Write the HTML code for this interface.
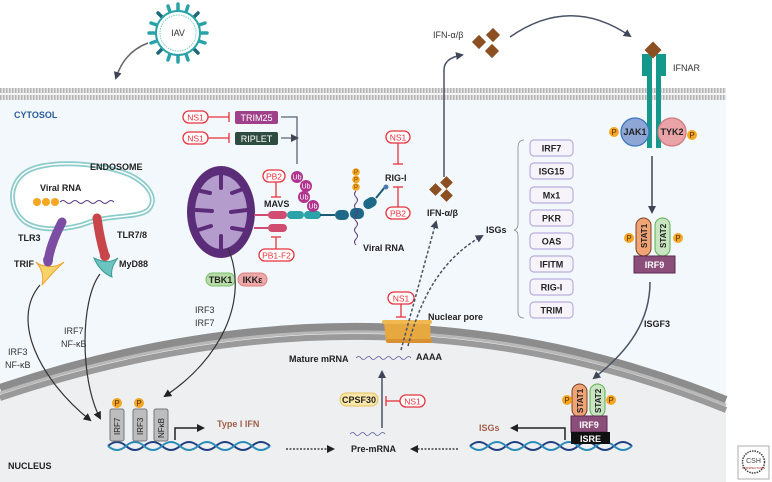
<!DOCTYPE html>
<html><head><meta charset="utf-8"><style>
html,body{margin:0;padding:0;background:#fff}
svg{display:block}
text{font-family:"Liberation Sans",sans-serif}
.b{font-weight:bold;font-size:9px;fill:#222}
.n{font-size:9px;fill:#333}
.pill{fill:#fff;stroke:#e8323c;stroke-width:1.3}
.pt{font-size:8.5px;fill:#e8323c;text-anchor:middle}
.isg{fill:#f6f3fb;stroke:#b9aee0;stroke-width:1.2}
</style></head><body>
<svg width="772" height="482" viewBox="0 0 772 482" xmlns="http://www.w3.org/2000/svg">
<defs>
<marker id="ar" markerWidth="8" markerHeight="8" refX="6" refY="4" orient="auto" markerUnits="userSpaceOnUse"><path d="M0,0 L8,4 L0,8 Z" fill="#3d4556"/></marker>
<marker id="ak" markerWidth="8" markerHeight="8" refX="6" refY="4" orient="auto" markerUnits="userSpaceOnUse"><path d="M0,0 L8,4 L0,8 Z" fill="#222"/></marker>
<pattern id="mem" width="3" height="12" patternUnits="userSpaceOnUse"><rect width="3" height="12" fill="#e6e6e6"/><rect x="0" y="0" width="1.5" height="12" fill="#b4b4b4"/></pattern>
</defs>
<rect x="0" y="100" width="726" height="382" fill="#f3f8fc"/>
<path d="M0,396 Q380,268 726,408 L726,482 L0,482 Z" fill="#eeeff1"/>
<path d="M0,388 Q380,260 726,400" fill="none" stroke="#8c8c8c" stroke-width="8"/>
<path d="M0,398 Q380,270 726,410" fill="none" stroke="#9a9a9a" stroke-width="6"/>
<path d="M0,393 Q380,265 726,405" fill="none" stroke="#b8b8b8" stroke-width="3"/>
<rect x="0" y="88" width="726" height="12" fill="url(#mem)"/>
<rect x="0" y="93" width="726" height="2" fill="#f4f4f4"/>
<!-- virus -->
<g transform="translate(178,33)">
<g stroke-width="3.5" stroke-linecap="round">
<g stroke="#2aa3a8">
<line x1="0" y1="-23" x2="0" y2="-29"/><line x1="0" y1="23" x2="0" y2="29"/><line x1="-23" y1="0" x2="-29" y2="0"/><line x1="23" y1="0" x2="29" y2="0"/>
<line x1="8" y1="-21" x2="10" y2="-27"/><line x1="-8" y1="21" x2="-10" y2="27"/><line x1="21" y1="8" x2="27" y2="10"/><line x1="-21" y1="-8" x2="-27" y2="-10"/>
<line x1="-8" y1="-21" x2="-10" y2="-27"/><line x1="8" y1="21" x2="10" y2="27"/><line x1="21" y1="-8" x2="27" y2="-10"/><line x1="-21" y1="8" x2="-27" y2="10"/>
</g>
<g stroke="#1e6878">
<line x1="16" y1="16" x2="20" y2="20"/><line x1="-16" y1="16" x2="-20" y2="20"/><line x1="16" y1="-16" x2="20" y2="-20"/><line x1="-16" y1="-16" x2="-20" y2="-20"/>
</g>
</g>
<circle r="22" fill="#fff" stroke="#2aa3a8" stroke-width="2"/>
<circle r="18" fill="#fff" stroke="#7fc8cc" stroke-width="1" stroke-dasharray="1.5,1"/>
<text x="0" y="3" font-size="9" text-anchor="middle" fill="#333">IAV</text>
</g>
<path d="M148,43 Q124,52 116,78" fill="none" stroke="#666" stroke-width="1.5" marker-end="url(#ar)"/>
<text x="14" y="118" font-size="9" font-weight="bold" fill="#2a5d9a">CYTOSOL</text>
<rect class="pill" x="183" y="111" width="25" height="12" rx="6"/><text class="pt" x="195.5" y="120.5">NS1</text>
<line x1="208" y1="117" x2="229" y2="117" stroke="#e8323c" stroke-width="1.3"/><line x1="229" y1="112" x2="229" y2="122" stroke="#e8323c" stroke-width="1.3"/>
<rect x="235" y="111" width="43" height="13" rx="2" fill="#a0408a"/><text x="256.5" y="121" font-size="9" fill="#fff" text-anchor="middle">TRIM25</text>
<rect class="pill" x="183" y="132" width="25" height="12" rx="6"/><text class="pt" x="195.5" y="141.5">NS1</text>
<line x1="208" y1="138" x2="229" y2="138" stroke="#e8323c" stroke-width="1.3"/><line x1="229" y1="133" x2="229" y2="143" stroke="#e8323c" stroke-width="1.3"/>
<rect x="235" y="132" width="43" height="13" rx="2" fill="#2f4c40"/><text x="256.5" y="142" font-size="9" fill="#fff" text-anchor="middle">RIPLET</text>
<path d="M281,117 H297 V164 M281,138 H297" fill="none" stroke="#5a6275" stroke-width="1.3" marker-end="url(#ar)"/>
<!-- endosome -->
<path d="M22,175 C40,158 100,162 130,175 C150,185 158,200 148,210 C138,218 110,215 90,222 C70,230 40,232 25,222 C10,210 8,188 22,175 Z" fill="#fff" stroke="#8ccbcc" stroke-width="5"/>
<path d="M22,175 C40,158 100,162 130,175 C150,185 158,200 148,210 C138,218 110,215 90,222 C70,230 40,232 25,222 C10,210 8,188 22,175 Z" fill="none" stroke="#fff" stroke-width="1.5"/>
<text class="b" x="90" y="170">ENDOSOME</text>
<text class="b" x="40" y="191">Viral RNA</text>
<circle cx="37" cy="202" r="4" fill="#f5a623"/><circle cx="46" cy="202" r="4" fill="#f5a623"/><circle cx="55" cy="202" r="4" fill="#f5a623"/>
<path d="M60,202 q3,-3 6,0 t6,0 t6,0 t6,0 t6,0 t6,0 t6,0 t6,0 t6,0" fill="none" stroke="#5b3a7d" stroke-width="1"/>
<path d="M36,262 Q45,272 42,285 Q55,270 64,262 Q55,268 48,266 Q40,266 36,262 Z" fill="#f7d46a" stroke="#f0a030" stroke-width="1"/>
<path d="M62,222 Q50,245 48,262" stroke="#7b4ea3" stroke-width="9" stroke-linecap="round" fill="none"/>
<circle cx="48" cy="260" r="5" fill="#7b4ea3"/>
<path d="M94,258 Q100,272 112,277 Q110,268 118,258 Q108,265 94,258 Z" fill="#6cc4c0" stroke="#3a9a96" stroke-width="1"/>
<path d="M97,218 Q100,240 105,256" stroke="#c8454a" stroke-width="9" stroke-linecap="round" fill="none"/>
<circle cx="105" cy="256" r="5" fill="#c8454a"/>
<text class="b" x="18" y="241">TLR3</text><text class="b" x="14" y="267">TRIF</text>
<text class="b" x="117" y="238">TLR7/8</text><text class="b" x="119" y="267">MyD88</text>
<!-- mitochondria -->
<ellipse cx="221" cy="212" rx="34" ry="46" fill="#5b2d79"/>
<ellipse cx="221" cy="212" rx="26" ry="37" fill="#b49ccc"/>
<g stroke="#5b2d79" stroke-width="4" stroke-linecap="round">
<line x1="196" y1="190" x2="210" y2="193"/><line x1="196" y1="210" x2="212" y2="211"/><line x1="198" y1="230" x2="211" y2="226"/>
<line x1="246" y1="188" x2="232" y2="193"/><line x1="247" y1="210" x2="231" y2="212"/><line x1="244" y1="230" x2="232" y2="228"/>
<line x1="221" y1="175" x2="221" y2="188"/><line x1="221" y1="249" x2="221" y2="236"/>
</g>
<rect x="268" y="211" width="19" height="8" rx="4" fill="#d04c70"/>
<rect x="268" y="224" width="19" height="8" rx="4" fill="#d04c70"/>
<line x1="254" y1="215" x2="268" y2="215" stroke="#d04c70" stroke-width="2"/>
<line x1="254" y1="228" x2="268" y2="228" stroke="#d04c70" stroke-width="2"/>
<rect x="287" y="211" width="17" height="8" rx="4" fill="#2aa3a8"/>
<rect x="304" y="211" width="17" height="8" rx="4" fill="#2aa3a8"/>
<line x1="320" y1="215" x2="335" y2="215" stroke="#1a5c78" stroke-width="2"/>
<rect x="335" y="210" width="14" height="10" rx="5" fill="#1e6888"/>
<rect x="350" y="208" width="14" height="11" rx="5" fill="#1e6888"/>
<rect x="363" y="198" width="14" height="10" rx="5" fill="#1e6888" transform="rotate(-30 370 203)"/>
<line x1="376" y1="198" x2="385" y2="187" stroke="#1a5c78" stroke-width="2"/>
<circle cx="386" cy="187" r="2.5" fill="#4a7ab0"/>
<g font-size="7" fill="#fff" text-anchor="middle">
<circle cx="297" cy="177" r="6" fill="#b0338d"/><text x="297" y="179.5">Ub</text>
<circle cx="306" cy="186" r="6" fill="#b0338d"/><text x="306" y="188.5">Ub</text>
<circle cx="304" cy="197" r="6" fill="#b0338d"/><text x="304" y="199.5">Ub</text>
<circle cx="313" cy="206" r="6" fill="#b0338d"/><text x="313" y="208.5">Ub</text>
</g>
<g font-size="6" fill="#7a4a00" text-anchor="middle">
<circle cx="356" cy="172" r="3.8" fill="#f5a623"/><text x="356" y="174">P</text>
<circle cx="356" cy="179.5" r="3.8" fill="#f5a623"/><text x="356" y="181.5">P</text>
<circle cx="356" cy="187" r="3.8" fill="#f5a623"/><text x="356" y="189">P</text>
</g>
<path d="M356,191 q-3,3 0,6 t0,6 t0,6 t0,6 t0,6 t0,6 t0,6 t0,6 t0,6" fill="none" stroke="#5b3a7d" stroke-width="1"/>
<text class="b" x="363" y="251">Viral RNA</text>
<text class="b" x="264" y="207">MAVS</text>
<rect class="pill" x="263" y="170" width="22" height="12" rx="6"/><text class="pt" x="274" y="179.5">PB2</text>
<line x1="276" y1="182" x2="276" y2="197" stroke="#e8323c" stroke-width="1.3"/><line x1="271" y1="197" x2="281" y2="197" stroke="#e8323c" stroke-width="1.3"/>
<rect class="pill" x="259" y="249" width="35" height="12" rx="6"/><text class="pt" x="276.5" y="258.5">PB1-F2</text>
<line x1="276" y1="249" x2="276" y2="237" stroke="#e8323c" stroke-width="1.3"/><line x1="271" y1="237" x2="281" y2="237" stroke="#e8323c" stroke-width="1.3"/>
<text class="b" x="385" y="181">RIG-I</text>
<rect class="pill" x="386" y="131" width="24" height="12" rx="6"/><text class="pt" x="398" y="140.5">NS1</text>
<line x1="398" y1="143" x2="398" y2="164" stroke="#e8323c" stroke-width="1.3"/><line x1="393" y1="164" x2="403" y2="164" stroke="#e8323c" stroke-width="1.3"/>
<rect class="pill" x="386" y="207" width="24" height="12" rx="6"/><text class="pt" x="398" y="216.5">PB2</text>
<line x1="398" y1="207" x2="398" y2="187" stroke="#e8323c" stroke-width="1.3"/><line x1="393" y1="187" x2="403" y2="187" stroke="#e8323c" stroke-width="1.3"/>
<rect x="206" y="273" width="29" height="13" rx="6.5" fill="#b8dca8" stroke="#7cbf6a" stroke-width="1"/><text class="b" x="220.5" y="283" text-anchor="middle">TBK1</text>
<rect x="238" y="273" width="29" height="13" rx="6.5" fill="#eea8a8" stroke="#d88080" stroke-width="1"/><text class="b" x="252.5" y="283" text-anchor="middle">IKKε</text>
<path d="M40,285 C10,320 40,380 90,420" fill="none" stroke="#333" stroke-width="1.2" marker-end="url(#ak)"/>
<path d="M100,274 C80,300 80,380 100,418" fill="none" stroke="#333" stroke-width="1.2" marker-end="url(#ak)"/>
<path d="M228,248 C250,300 220,360 165,396" fill="none" stroke="#333" stroke-width="1.2" marker-end="url(#ak)"/>
<text class="n" x="8" y="355">IRF3</text><text class="n" x="5" y="368">NF-κB</text>
<text class="n" x="64" y="334">IRF7</text><text class="n" x="61" y="347">NF-κB</text>
<text class="n" x="195" y="313">IRF3</text><text class="n" x="195" y="326">IRF7</text>
<g fill="none" stroke-width="2">
<path d="M108,446 q9,-8 18,0 t18,0 t18,0 t18,0 t18,0 t18,0 t18,0 t18,0 t18,0" stroke="#1e3f80"/>
<path d="M108,446 q9,8 18,0 t18,0 t18,0 t18,0 t18,0 t18,0 t18,0 t18,0 t18,0" stroke="#2a8ab8"/>
<path d="M470,446 q9,-8 18,0 t18,0 t18,0 t18,0 t18,0 t18,0 t18,0 t18,0 t18,0" stroke="#1e3f80"/>
<path d="M470,446 q9,8 18,0 t18,0 t18,0 t18,0 t18,0 t18,0 t18,0 t18,0 t18,0" stroke="#2a8ab8"/>
</g>
<g font-size="8" fill="#222">
<rect x="110" y="409" width="14" height="32" rx="2" fill="#bdbdbd" stroke="#777"/><text transform="translate(120,435) rotate(-90)">IRF7</text>
<rect x="133" y="409" width="14" height="32" rx="2" fill="#bdbdbd" stroke="#777"/><text transform="translate(143,435) rotate(-90)">IRF3</text>
<rect x="154" y="409" width="14" height="32" rx="2" fill="#bdbdbd" stroke="#777"/><text transform="translate(164,438) rotate(-90)">NFκB</text>
</g>
<circle cx="117" cy="403" r="5" fill="#f5a623"/><text x="117" y="406" font-size="8" text-anchor="middle" fill="#5a3000">P</text>
<circle cx="139" cy="403" r="5" fill="#f5a623"/><text x="139" y="406" font-size="8" text-anchor="middle" fill="#5a3000">P</text>
<path d="M175,440 V428 H203" fill="none" stroke="#222" stroke-width="1.5" marker-end="url(#ak)"/>
<text x="217" y="427" font-size="9" font-weight="bold" fill="#a0604a">Type I IFN</text>
<text class="b" x="8" y="469">NUCLEUS</text>
<line x1="286" y1="449" x2="333" y2="449" stroke="#222" stroke-width="1.2" stroke-dasharray="2,1.5" marker-end="url(#ak)"/>
<text class="b" x="351" y="452">Pre-mRNA</text>
<line x1="458" y1="449" x2="412" y2="449" stroke="#222" stroke-width="1.2" stroke-dasharray="2,1.5" marker-end="url(#ak)"/>
<path d="M350,434 q3,-3 5,0 t5,0 t5,0 t5,0 t5,0 t5,0 t5,0" fill="none" stroke="#5b5b9b" stroke-width="0.8"/>
<line x1="382" y1="428" x2="382" y2="372" stroke="#4a5266" stroke-width="1.5" marker-end="url(#ar)"/>
<rect x="340" y="393" width="38" height="13" rx="6.5" fill="#fbe7a8" stroke="#e8c060"/><text class="b" x="359" y="403" text-anchor="middle">CPSF30</text>
<rect class="pill" x="400" y="395" width="25" height="12" rx="6"/><text class="pt" x="412.5" y="404.5">NS1</text>
<line x1="400" y1="401" x2="386" y2="401" stroke="#e8323c" stroke-width="1.3"/><line x1="386" y1="396" x2="386" y2="406" stroke="#e8323c" stroke-width="1.3"/>
<text class="b" x="289" y="362">Mature mRNA</text>
<path d="M356,358 q3,-3 5,0 t5,0 t5,0 t5,0 t5,0 t5,0 t5,0 t5,0 t5,0 t5,0 t5,0" fill="none" stroke="#5b5b9b" stroke-width="0.8"/>
<text class="b" x="416" y="360">AAAA</text>
<path d="M384,322 L430,322 L431,342 L386,342 Z" fill="#e8a840"/>
<rect x="382" y="320" width="50" height="4" rx="2" fill="#f0b850"/>
<rect x="386" y="339" width="46" height="4" rx="2" fill="#d89030"/>
<rect class="pill" x="388" y="292" width="26" height="12" rx="6"/><text class="pt" x="401" y="301.5">NS1</text>
<line x1="401" y1="304" x2="401" y2="317" stroke="#e8323c" stroke-width="1.3"/><line x1="396" y1="317" x2="406" y2="317" stroke="#e8323c" stroke-width="1.3"/>
<text class="b" x="428" y="320">Nuclear pore</text>
<line x1="401" y1="350" x2="436" y2="222" stroke="#4a5266" stroke-width="1.5" stroke-dasharray="3,2" marker-end="url(#ar)"/>
<path d="M408,346 C420,300 440,260 482,236" fill="none" stroke="#4a5266" stroke-width="1.5" stroke-dasharray="3,2" marker-end="url(#ar)"/>
<g fill="#8b4f22">
<rect x="431" y="185" width="9" height="9" transform="rotate(45 435.5 189.5)"/>
<rect x="442" y="178" width="9" height="9" transform="rotate(45 446.5 182.5)"/>
<rect x="442" y="191" width="9" height="9" transform="rotate(45 446.5 195.5)"/>
</g>
<text class="b" x="427" y="216">IFN-α/β</text>
<path d="M444,177 V70 Q444,58 462,55" fill="none" stroke="#4a5266" stroke-width="1.5" marker-end="url(#ar)"/>
<g fill="#8b4f22">
<rect x="474" y="37" width="10" height="10" transform="rotate(45 479 42)"/>
<rect x="488" y="30" width="10" height="10" transform="rotate(45 493 35)"/>
<rect x="487" y="46" width="10" height="10" transform="rotate(45 492 51)"/>
</g>
<text class="n" x="433" y="38">IFN-α/β</text>
<path d="M510,37 Q570,-5 630,36" fill="none" stroke="#4a5266" stroke-width="1.5" marker-end="url(#ar)"/>
<rect x="642" y="54" width="10" height="22" fill="#14988c"/><rect x="656" y="54" width="10" height="22" fill="#14988c"/>
<rect x="647" y="70" width="5" height="78" fill="#14988c"/><rect x="656" y="70" width="5" height="78" fill="#14988c"/>
<rect x="647" y="44" width="12" height="12" fill="#8b4f22" transform="rotate(45 653 50)"/>
<text class="n" x="673" y="71">IFNAR</text>
<circle cx="635" cy="132" r="14" fill="#8ea6d4" stroke="#3c74c4" stroke-width="1.3"/><text class="b" x="635" y="135" text-anchor="middle">JAK1</text>
<circle cx="672" cy="132" r="14" fill="#eaa4a8" stroke="#d07a80" stroke-width="1.3"/><text class="b" x="672" y="135" text-anchor="middle">TYK2</text>
<circle cx="614" cy="132" r="5" fill="#f5a623"/><text x="614" y="135" font-size="8" text-anchor="middle" fill="#5a3000">P</text>
<circle cx="692" cy="135" r="5" fill="#f5a623"/><text x="692" y="138" font-size="8" text-anchor="middle" fill="#5a3000">P</text>
<line x1="652" y1="156" x2="652" y2="212" stroke="#3d4556" stroke-width="1.5" marker-end="url(#ar)"/>
<rect x="636" y="218" width="15" height="38" rx="7.5" fill="#f0a475" stroke="#7a4020"/><text transform="translate(647,248) rotate(-90)" font-size="8" font-weight="bold" fill="#222">STAT1</text>
<rect x="655" y="218" width="15" height="38" rx="7.5" fill="#c8e4c0" stroke="#5bb050"/><text transform="translate(666,248) rotate(-90)" font-size="8" font-weight="bold" fill="#222">STAT2</text>
<circle cx="629" cy="238" r="5" fill="#f5a623"/><text x="629" y="241" font-size="8" text-anchor="middle" fill="#5a3000">P</text>
<circle cx="678" cy="238" r="5" fill="#f5a623"/><text x="678" y="241" font-size="8" text-anchor="middle" fill="#5a3000">P</text>
<rect x="634" y="256" width="41" height="17" fill="#8b4d7a" stroke="#5a2a50"/><text x="654.5" y="268" font-size="9" font-weight="bold" fill="#fff" text-anchor="middle">IRF9</text>
<path d="M650,282 C650,320 630,350 594,378" fill="none" stroke="#4a5266" stroke-width="1.5" marker-end="url(#ar)"/>
<text class="b" x="644" y="327">ISGF3</text>
<rect x="572" y="384" width="15" height="33" rx="7.5" fill="#f0a475" stroke="#7a4020"/><text transform="translate(583,413) rotate(-90)" font-size="8" font-weight="bold" fill="#222">STAT1</text>
<rect x="590" y="384" width="15" height="33" rx="7.5" fill="#c8e4c0" stroke="#5bb050"/><text transform="translate(601,413) rotate(-90)" font-size="8" font-weight="bold" fill="#222">STAT2</text>
<circle cx="567" cy="400" r="5" fill="#f5a623"/><text x="567" y="403" font-size="8" text-anchor="middle" fill="#5a3000">P</text>
<circle cx="611" cy="400" r="5" fill="#f5a623"/><text x="611" y="403" font-size="8" text-anchor="middle" fill="#5a3000">P</text>
<rect x="571" y="416" width="36" height="16" fill="#8b4d7a" stroke="#5a2a50"/><text x="589" y="428" font-size="9" font-weight="bold" fill="#fff" text-anchor="middle">IRF9</text>
<rect x="571" y="432" width="39" height="12" fill="#111"/><text x="590.5" y="442" font-size="9" font-weight="bold" fill="#fff" text-anchor="middle">ISRE</text>
<path d="M565,440 V428 H512" fill="none" stroke="#222" stroke-width="1.5" marker-end="url(#ak)"/>
<text x="479" y="431" font-size="9" font-weight="bold" fill="#a0604a">ISGs</text>
<path d="M524,140 Q518,140 518,148 V224 Q518,229 514,230 Q518,231 518,236 V312 Q518,318 524,318" fill="none" stroke="#888" stroke-width="0.8"/>
<text class="b" x="486" y="233">ISGs</text>
<g class="b" text-anchor="middle">
<rect class="isg" x="530" y="140" width="43" height="16" rx="4"/><text x="551.5" y="151.5">IRF7</text>
<rect class="isg" x="530" y="163" width="43" height="16" rx="4"/><text x="551.5" y="174.5">ISG15</text>
<rect class="isg" x="530" y="187" width="43" height="16" rx="4"/><text x="551.5" y="198.5">Mx1</text>
<rect class="isg" x="530" y="210" width="43" height="16" rx="4"/><text x="551.5" y="221.5">PKR</text>
<rect class="isg" x="530" y="233" width="43" height="16" rx="4"/><text x="551.5" y="244.5">OAS</text>
<rect class="isg" x="530" y="256" width="43" height="16" rx="4"/><text x="551.5" y="267.5">IFITM</text>
<rect class="isg" x="530" y="279" width="43" height="16" rx="4"/><text x="551.5" y="290.5">RIG-I</text>
<rect class="isg" x="530" y="302" width="43" height="16" rx="4"/><text x="551.5" y="313.5">TRIM</text>
</g>
<rect x="738" y="446" width="31" height="33" fill="#fff" stroke="#999" stroke-width="0.8"/>
<circle cx="753.5" cy="462" r="11" fill="none" stroke="#444" stroke-width="1.5" stroke-dasharray="1.5,1"/>
<text x="753.5" y="463" font-size="7" text-anchor="middle" fill="#444" font-family="Liberation Serif">CSH</text>
<text x="753.5" y="469" font-size="3" text-anchor="middle" fill="#a02020">PERSPECTIVES</text>
</svg>
</body></html>
